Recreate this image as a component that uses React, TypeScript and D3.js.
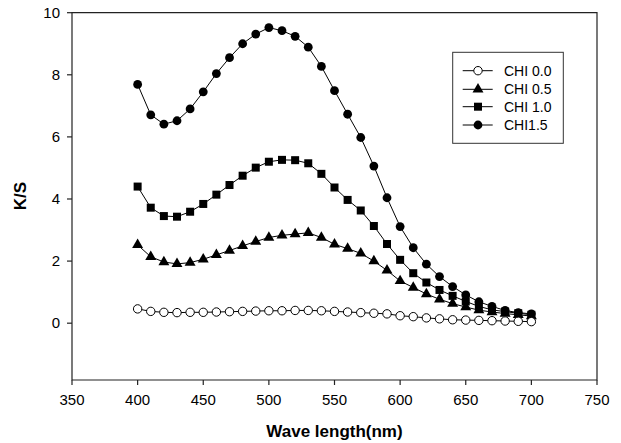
import React from "react";
import * as d3 from "d3";

const wavelengths = d3.range(400, 701, 10);
const chi00 = [0.46, 0.38, 0.35, 0.34, 0.35, 0.35, 0.36, 0.37, 0.38, 0.39, 0.40, 0.40, 0.41, 0.41, 0.40, 0.38, 0.36, 0.34, 0.32, 0.30, 0.24, 0.21, 0.17, 0.14, 0.11, 0.10, 0.09, 0.08, 0.07, 0.06, 0.05];
const chi05 = [2.52, 2.14, 1.97, 1.91, 1.95, 2.06, 2.20, 2.34, 2.49, 2.63, 2.76, 2.83, 2.87, 2.91, 2.76, 2.54, 2.40, 2.25, 2.00, 1.70, 1.36, 1.15, 0.94, 0.77, 0.63, 0.52, 0.42, 0.36, 0.31, 0.27, 0.23];
const chi10 = [4.40, 3.72, 3.45, 3.43, 3.59, 3.84, 4.14, 4.45, 4.75, 5.01, 5.20, 5.26, 5.25, 5.15, 4.81, 4.37, 3.97, 3.63, 3.13, 2.55, 2.04, 1.61, 1.31, 1.07, 0.88, 0.70, 0.54, 0.43, 0.37, 0.32, 0.27];
const chi15 = [7.69, 6.71, 6.41, 6.52, 6.90, 7.45, 8.04, 8.55, 9.00, 9.31, 9.52, 9.42, 9.24, 8.89, 8.27, 7.49, 6.73, 5.98, 5.06, 4.04, 3.11, 2.43, 1.90, 1.50, 1.18, 0.91, 0.69, 0.54, 0.41, 0.34, 0.30];
const seriesNames = ["CHI 0.0", "CHI 0.5", "CHI 1.0", "CHI1.5"];
const xTicks = [350, 400, 450, 500, 550, 600, 650, 700, 750];
const yTicks = [0, 2, 4, 6, 8, 10];

type Kind = "openCircle" | "triangle" | "square" | "circle";
const kinds: Kind[] = ["openCircle", "triangle", "square", "circle"];
const allValues = [chi00, chi05, chi10, chi15];

const W = 621, H = 443;
const left = 72, right = 597, top = 12.7, bottom = 380;
const x = d3.scaleLinear().domain([350, 750]).range([left, right]);
const y = d3.scaleLinear().domain([-1.83, 10]).range([bottom, top]);
const font = "Arial, 'Liberation Sans', sans-serif";

function Marker({ kind, cx, cy }: { kind: Kind; cx: number; cy: number }) {
  if (kind === "openCircle") return <circle cx={cx} cy={cy} r={4.2} fill="#fff" stroke="#000" strokeWidth={1} />;
  if (kind === "circle") return <circle cx={cx} cy={cy} r={4.4} fill="#000" />;
  if (kind === "square") return <rect x={cx - 4} y={cy - 4} width={8} height={8} fill="#000" />;
  const tri = d3.symbol(d3.symbolTriangle, 52)();
  return <path d={tri || ""} transform={`translate(${cx},${cy})`} fill="#000" />;
}

export default function App() {
  const line = d3.line<number>().x((_, i) => x(wavelengths[i])).y((d) => y(d));
  const order = [3, 2, 1, 0];
  const legendRows = [70.7, 89.3, 106.7, 125];
  return (
    <svg width={W} height={H} style={{ position: "absolute", left: 0, top: 0, background: "#fff" }} fontFamily={font}>
      <rect x={0} y={0} width={W} height={H} fill="#fff" />
      <path d={`M${left},${top}H${right}V${bottom}H${left}Z`} fill="none" stroke="#222" strokeWidth={1.2} />
      {xTicks.map((t) => (
        <g key={t}>
          <line x1={x(t)} x2={x(t)} y1={bottom} y2={bottom + 5} stroke="#222" strokeWidth={1.2} />
          <text x={x(t)} y={405} fontSize={15} textAnchor="middle" fill="#000">{t}</text>
        </g>
      ))}
      {yTicks.map((t) => (
        <g key={t}>
          <line x1={left - 5} x2={left} y1={y(t)} y2={y(t)} stroke="#222" strokeWidth={1.2} />
          <text x={60} y={y(t) + 5.3} fontSize={15} textAnchor="end" fill="#000">{t}</text>
        </g>
      ))}
      <text x={334.5} y={437} fontSize={17} fontWeight="bold" textAnchor="middle">Wave length(nm)</text>
      <text transform={`translate(26,196) rotate(-90)`} fontSize={17} fontWeight="bold" textAnchor="middle">K/S</text>
      {order.map((si) => (
        <g key={si}>
          <path d={line(allValues[si]) || ""} fill="none" stroke="#000" strokeWidth={1} />
          {allValues[si].map((v, i) => (
            <Marker key={i} kind={kinds[si]} cx={x(wavelengths[i])} cy={y(v)} />
          ))}
        </g>
      ))}
      <rect x={452.7} y={52.3} width={110.6} height={91} fill="#fff" stroke="#333" strokeWidth={1} />
      {seriesNames.map((name, i) => (
        <g key={name}>
          <line x1={462.7} x2={492.7} y1={legendRows[i]} y2={legendRows[i]} stroke="#000" strokeWidth={1} />
          <Marker kind={kinds[i]} cx={478} cy={legendRows[i]} />
          <text x={504} y={legendRows[i] + 5} fontSize={14}>{name}</text>
        </g>
      ))}
    </svg>
  );
}
